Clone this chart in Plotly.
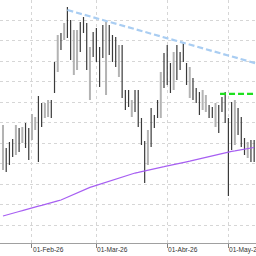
import pandas as pd
import plotly.graph_objects as go

# ---- data ----
holidays = ["2026-04-02", "2026-04-03", "2026-04-06", "2026-05-01"]
dates = pd.bdate_range("2026-01-20", "2026-05-14", freq="C", holidays=holidays)

high = [14.89, 13.77, 14.06, 14.21, 14.89, 14.74, 14.79, 14.99, 14.74, 15.43,
        15.28, 16.31, 15.97, 15.97, 16.11, 16.11, 17.97, 19.29, 19.39, 19.88,
        20.66, 20.02, 19.53, 19.53, 19.92, 20.17, 19.88, 18.70, 19.44, 19.63,
        18.70, 19.78, 19.92, 19.78, 19.29, 19.19, 18.80, 18.80, 16.60, 16.60,
        16.11, 16.60, 16.60, 15.23, 14.11, 14.65, 15.72, 15.38, 16.11, 17.48,
        18.41, 18.80, 17.92, 18.46, 18.80, 18.46, 18.90, 17.92, 17.73, 17.19,
        16.70, 16.50, 16.60, 16.36, 15.87, 15.77, 15.97, 15.87, 16.26, 16.50,
        15.23, 16.01, 16.11, 15.72, 15.28, 14.25, 14.06, 14.16, 14.16]
low = [12.69, 12.59, 12.93, 13.33, 13.42, 13.57, 14.01, 13.77, 13.18, 14.16,
       14.65, 13.08, 14.79, 15.23, 15.28, 15.23, 16.45, 17.48, 18.56, 19.04,
       19.14, 18.07, 17.33, 17.58, 18.46, 19.39, 17.58, 16.11, 18.21, 17.97,
       16.75, 18.16, 16.36, 18.31, 17.97, 17.73, 17.24, 16.21, 15.62, 15.77,
       15.28, 15.53, 14.79, 13.91, 12.05, 12.93, 13.81, 14.74, 15.23, 15.23,
       16.70, 16.85, 16.45, 16.60, 17.09, 17.58, 17.97, 16.85, 16.21, 16.11,
       15.97, 15.38, 15.62, 15.53, 15.23, 15.23, 14.79, 14.50, 15.53, 14.99,
       11.42, 13.67, 13.91, 14.40, 13.81, 13.42, 13.28, 13.08, 13.08]
open_ = [13.3, 13.5, 13.8, 14.0, 13.7, 14.5, 14.2, 14.8, 14.4, 14.4,
         14.8, 15.9, 15.7, 15.4, 15.5, 15.9, 17.6, 17.9, 19.2, 19.3,
         20.3, 19.7, 17.8, 17.9, 19.6, 20.0, 19.5, 16.6, 19.2, 19.3,
         18.4, 19.5, 16.9, 19.5, 19.0, 18.9, 17.6, 18.4, 16.4, 16.4,
         15.5, 16.4, 16.3, 15.0, 13.8, 13.3, 15.4, 15.2, 15.9, 15.7,
         18.1, 18.5, 17.6, 17.0, 18.5, 18.3, 18.7, 17.7, 16.5, 17.0,
         16.5, 16.3, 15.8, 15.7, 15.7, 15.6, 15.0, 15.6, 16.1, 16.2,
         14.8, 15.6, 14.3, 15.5, 15.0, 14.1, 13.5, 13.9, 13.9]
close = [14.2, 12.9, 13.2, 13.5, 14.6, 13.9, 14.6, 14.1, 13.6, 15.2,
         15.1, 13.6, 15.0, 15.8, 15.9, 15.5, 16.8, 19.0, 18.8, 19.7,
         19.5, 18.4, 19.1, 19.2, 18.8, 19.6, 18.0, 18.3, 18.5, 18.3,
         17.1, 18.5, 19.4, 18.6, 18.3, 18.0, 18.5, 16.7, 15.8, 16.0,
         15.9, 15.8, 15.1, 14.2, 12.5, 14.3, 14.2, 14.9, 15.4, 17.1,
         17.0, 17.2, 16.8, 18.1, 17.4, 17.8, 18.2, 17.1, 17.4, 16.3,
         16.1, 15.6, 16.4, 16.2, 15.4, 15.3, 15.7, 14.8, 15.7, 15.3,
         12.0, 14.1, 15.7, 14.6, 14.1, 13.6, 13.9, 13.3, 13.3]
moving_avg = [10.44, 10.49, 10.53, 10.57, 10.62, 10.66, 10.70, 10.75, 10.79, 10.83,
              10.88, 10.92, 10.96, 11.01, 11.05, 11.09, 11.14, 11.18, 11.22,
              11.29, 11.37, 11.43, 11.50, 11.58, 11.64, 11.72, 11.79,
              11.84, 11.89, 11.94, 12.00, 12.05, 12.10, 12.15,
              12.21, 12.26, 12.31, 12.36, 12.42, 12.47,
              12.50, 12.54, 12.57, 12.61, 12.64,
              12.68, 12.71, 12.74, 12.78, 12.82, 12.85, 12.89,
              12.92, 12.95, 12.99, 13.02, 13.05, 13.09, 13.12, 13.15,
              13.19, 13.23, 13.27, 13.31, 13.35, 13.38, 13.42, 13.46, 13.50, 13.53, 13.57,
              13.60, 13.62, 13.65, 13.68, 13.71, 13.74, 13.76, 13.79]

# trend line (bar index, price) and resistance level
trend_x = [20, 56, 80]
trend_y = [20.51, 18.90, 17.84]
level_x = [67.4, 80]
level_y = [16.41, 16.41]

tick_labels = ["01-Feb-26", "01-Mar-26", "01-Abr-26", "01-May-26"]

# ---- figure ----
x = list(range(len(dates)))
month_first = []
seen = set()
for i, d in enumerate(dates):
    key = (d.year, d.month)
    if key not in seen:
        seen.add(key)
        month_first.append(i)
tick_vals = month_first[1:1 + len(tick_labels)]

fig = go.Figure()
fig.add_trace(go.Ohlc(
    x=x, open=open_, high=high, low=low, close=close,
    increasing=dict(line=dict(color="#b3b3b3", width=2)),
    decreasing=dict(line=dict(color="#3a3a3a", width=1.2)),
    tickwidth=0.15, showlegend=False, hoverinfo="skip"))
fig.add_trace(go.Scatter(x=x, y=moving_avg, mode="lines",
                         line=dict(color="#a75ff2", width=1.2),
                         showlegend=False, hoverinfo="skip"))
fig.add_trace(go.Scatter(x=trend_x, y=trend_y, mode="lines",
                         line=dict(color="#a9cdf2", width=2.2, dash="6px,3px"),
                         showlegend=False, hoverinfo="skip"))
fig.add_trace(go.Scatter(x=level_x, y=level_y, mode="lines",
                         line=dict(color="#1ee01e", width=2.2, dash="6px,3px"),
                         showlegend=False, hoverinfo="skip"))

# left-aligned date labels next to each month tick
for tv, label in zip(tick_vals, tick_labels):
    fig.add_annotation(x=tv, y=0, xref="x", yref="paper", text=label,
                       showarrow=False, xanchor="left", yanchor="top",
                       yshift=-2, xshift=0, borderpad=0,
                       font=dict(family="Liberation Sans", size=6.6, color="#333333"))

fig.update_layout(
    width=256, height=256,
    margin=dict(l=0, r=0, t=0, b=13),
    paper_bgcolor="white", plot_bgcolor="white",
    showlegend=False,
    xaxis=dict(
        range=[-0.93, 78.57], rangeslider=dict(visible=False),
        tickmode="array", tickvals=tick_vals, ticktext=["" for _ in tick_labels],
        showgrid=True, gridcolor="#d6d6d6", griddash="dot", gridwidth=1,
        showline=True, linecolor="#a0a0a0", linewidth=1,
        ticks="outside", ticklen=4, tickcolor="#808080",
        zeroline=False,
    ),
    yaxis=dict(
        range=[9.12, 21.0], tick0=10, dtick=1,
        showgrid=True, gridcolor="#d6d6d6", griddash="dot", gridwidth=1,
        showticklabels=False, zeroline=False, showline=False, ticks="",
    ),
)

fig.write_html("out.html")
